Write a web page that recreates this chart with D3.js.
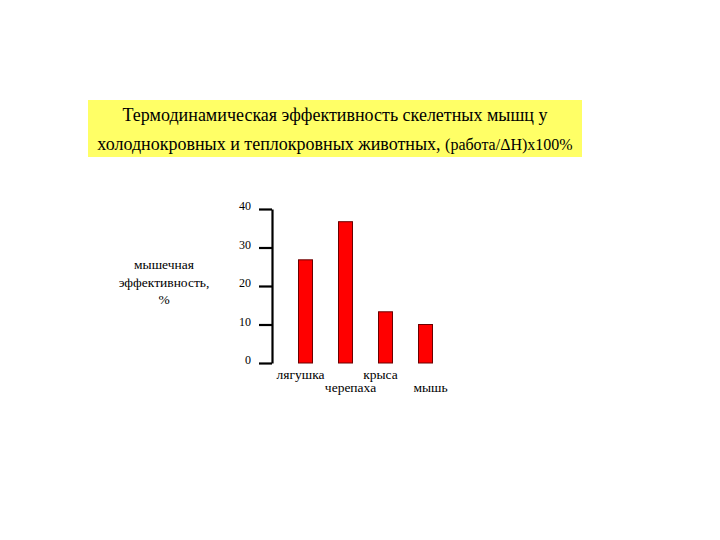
<!DOCTYPE html>
<html>
<head>
<meta charset="utf-8">
<script src="https://cdn.jsdelivr.net/npm/d3@7"></script>
<style>
  body { margin: 0; background: #fff; }
  text { font-family: 'Liberation Serif', 'DejaVu Serif', serif; }
</style>
</head>
<body>
<svg id="chart" width="720" height="540"></svg>
<script>
// chart data
const animals = ['лягушка', 'черепаха', 'крыса', 'мышь'];
const efficiency = [26.8, 36.7, 13.3, 10];
const yTicks = [0, 10, 20, 30, 40];
const titleLines = ['Термодинамическая эффективность скелетных мышц у', 'холоднокровных и теплокровных животных, '];
const titleTail = '(работа/ΔH)x100%';
const yLabelLines = ['мышечная', 'эффективность,', '%'];

const serif = "'Liberation Serif', 'DejaVu Serif', serif";
const svg = d3.select('#chart');

// title box
svg.append('rect')
   .attr('x', 88).attr('y', 100)
   .attr('width', 494).attr('height', 57)
   .attr('fill', '#ffff66');

svg.append('text')
   .attr('x', 335).attr('y', 121)
   .attr('text-anchor', 'middle')
   .attr('font-family', serif)
   .attr('font-size', 18)
   .text(titleLines[0]);

const t2 = svg.append('text')
   .attr('x', 335).attr('y', 150)
   .attr('text-anchor', 'middle')
   .attr('font-family', serif)
   .attr('font-size', 18);
t2.append('tspan').text(titleLines[1]);
t2.append('tspan').attr('font-size', 16).text(titleTail);

// scales
const yScale = d3.scaleLinear().domain([0, 40]).range([363, 209]);
const xScale = d3.scalePoint().domain(animals).range([305.5, 425.5]);
const barWidth = 14;

// y axis
const yAxis = svg.append('g')
   .attr('transform', 'translate(272,0)')
   .call(d3.axisLeft(yScale).tickValues(yTicks).tickSize(13).tickSizeOuter(0).tickPadding(8));

yAxis.attr('font-family', serif);
yAxis.select('.domain').attr('stroke', '#000').attr('stroke-width', 2.2);
yAxis.selectAll('.tick line').attr('stroke', '#000').attr('stroke-width', 2.2);
yAxis.selectAll('.tick text')
     .attr('font-family', serif)
     .attr('font-size', 12)
     .attr('dy', '0.05em')
     .attr('fill', '#000');

// y label
svg.append('g')
   .selectAll('text')
   .data(yLabelLines)
   .enter()
   .append('text')
   .attr('x', 164)
   .attr('y', (d, i) => 269 + i * 17.5)
   .attr('text-anchor', 'middle')
   .attr('font-family', serif)
   .attr('font-size', 13.5)
   .text(d => d);

// bars
svg.append('g')
   .selectAll('rect')
   .data(efficiency)
   .enter()
   .append('rect')
   .attr('x', (d, i) => xScale(animals[i]) - barWidth / 2)
   .attr('y', d => yScale(d))
   .attr('width', barWidth)
   .attr('height', d => yScale(0) - yScale(d))
   .attr('fill', '#ff0000')
   .attr('stroke', '#6a0000')
   .attr('stroke-width', 1);

// category labels, staggered in two rows
svg.append('g')
   .selectAll('text')
   .data(animals)
   .enter()
   .append('text')
   .attr('x', d => xScale(d))
   .attr('dx', (d, i) => i % 2 === 0 ? -5 : 5)
   .attr('y', (d, i) => i % 2 === 0 ? 379 : 392)
   .attr('text-anchor', 'middle')
   .attr('font-family', serif)
   .attr('font-size', 13.5)
   .text(d => d);
</script>
</body>
</html>
